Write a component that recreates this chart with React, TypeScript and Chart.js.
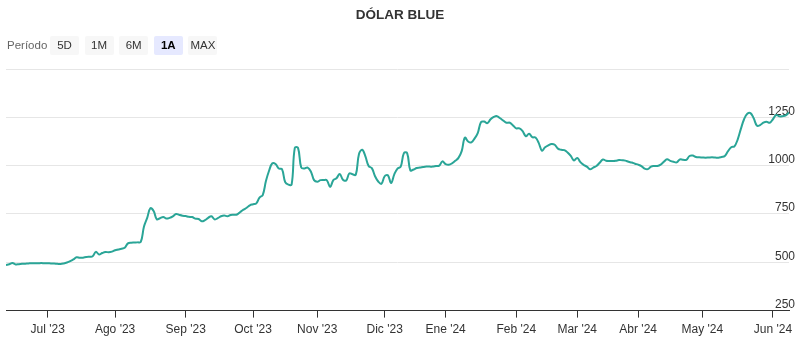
import React, { useEffect, useRef } from "react";
import { Chart, registerables } from "chart.js";

Chart.register(...registerables);

const chartTitle = "DÓLAR BLUE";
const periodLabel = "Período";
const periodButtons = ["5D", "1M", "6M", "1A", "MAX"];
const selectedPeriod = "1A";

// Month labels (x-axis ticks) — first month is partial and not labelled
const monthLabels = [
  "Jun '23", "Jul '23", "Ago '23", "Sep '23", "Oct '23", "Nov '23", "Dic '23",
  "Ene '24", "Feb '24", "Mar '24", "Abr '24", "May '24", "Jun '24",
];

// Daily (business-day) rates, grouped by month
const jun23 = [486, 490, 496, 489, 490, 492, 493, 494, 495, 495, 495, 496, 495];
const jul23 = [495, 494, 494, 492, 491, 494, 499, 506, 515, 526, 523, 524, 527, 529, 531, 554, 540, 548, 553, 552, 555];
const ago23 = [562, 566, 570, 575, 598, 601, 602, 603, 605, 685, 730, 780, 765, 722, 728, 734, 726, 730, 738, 750, 745, 741];
const sep23 = [739, 735, 734, 726, 724, 712, 718, 730, 738, 722, 728, 738, 742, 738, 745, 746, 747, 760, 772, 782, 795];
const oct23 = [800, 805, 835, 848, 920, 975, 1012, 1008, 985, 982, 915, 902, 902, 1092, 1092, 990, 985, 990, 970, 925];
const nov23 = [917, 925, 926, 924, 890, 925, 935, 957, 927, 923, 960, 955, 953, 1060, 1082, 1048, 998, 987, 945, 918, 906];
const dic23 = [945, 950, 910, 955, 985, 995, 1065, 1065, 975, 980, 988, 990, 993, 995, 995, 995, 998, 1000, 1022];
const ene24 = [1008, 1005, 1012, 1025, 1040, 1075, 1145, 1125, 1120, 1140, 1168, 1225, 1228, 1220, 1240, 1252, 1256, 1245, 1233, 1222, 1222, 1208];
const feb24 = [1193, 1193, 1178, 1152, 1165, 1147, 1146, 1118, 1078, 1095, 1105, 1112, 1108, 1088, 1082, 1080, 1068, 1050, 1027];
const mar24 = [1040, 1018, 1004, 995, 981, 990, 998, 1015, 1032, 1025, 1024, 1024, 1025, 1029, 1028, 1026, 1020, 1016, 1010];
const abr24 = [1005, 998, 985, 982, 995, 998, 998, 1005, 1020, 1033, 1025, 1020, 1017, 1032, 1030, 1030, 1050, 1052, 1045, 1043];
const may24 = [1042, 1041, 1042, 1043, 1042, 1041, 1045, 1050, 1075, 1095, 1100, 1135, 1190, 1240, 1268, 1272, 1245, 1207, 1210, 1222, 1227, 1222];
const jun24 = [1240, 1262, 1255, 1256, 1260, 1275];

const monthlyRates = [jun23, jul23, ago23, sep23, oct23, nov23, dic23, ene24, feb24, mar24, abr24, may24, jun24];

const yTickValues = [250, 500, 750, 1000, 1250, 1500];

const FONT = "'Liberation Sans', Arial, Helvetica, sans-serif";

export default function App() {
  const canvasRef = useRef<HTMLCanvasElement | null>(null);

  useEffect(() => {
    if (!canvasRef.current) return;
    const rates: number[] = [];
    const monthStarts: number[] = [];
    monthlyRates.forEach((m) => {
      monthStarts.push(rates.length);
      rates.push(...m);
    });
    const tickIdx = monthStarts.slice(1);
    const tickLabelMap = new Map<number, string>();
    tickIdx.forEach((v, i) => tickLabelMap.set(v, monthLabels[i + 1]));

    const chart = new Chart(canvasRef.current, {
      type: "line",
      data: {
        datasets: [
          {
            data: rates.map((v, i) => ({ x: i, y: v })),
            borderColor: "#2aa597",
            borderWidth: 2,
            pointRadius: 0,
            tension: 0.4,
            fill: false,
          },
        ],
      },
      options: {
        animation: false,
        responsive: false,
        maintainAspectRatio: false,
        layout: { padding: { left: 6, right: 5, top: 69, bottom: 0 } },
        plugins: { legend: { display: false }, tooltip: { enabled: false }, title: { display: false } },
        scales: {
          x: {
            type: "linear",
            min: 0,
            max: rates.length - 1,
            afterBuildTicks: (scale: any) => {
              scale.ticks = tickIdx.map((v) => ({ value: v }));
            },
            ticks: {
              autoSkip: false,
              maxRotation: 0,
              padding: 5,
              color: "#333333",
              font: { size: 12, family: FONT },
              callback: (v: any) => tickLabelMap.get(Number(v)) ?? "",
            },
            grid: { drawOnChartArea: false, drawTicks: true, tickLength: 7, color: "#333333" },
            border: { display: true, color: "#333333", width: 1 },
          },
          y: {
            position: "right",
            min: 250,
            max: 1500,
            afterBuildTicks: (scale: any) => {
              scale.ticks = yTickValues.map((v) => ({ value: v }));
            },
            afterFit: (scale: any) => {
              scale.width = 6;
            },
            ticks: {
              mirror: true,
              padding: 6,
              labelOffset: -6,
              color: "#333333",
              font: { size: 12, family: FONT },
              callback: (v: any) => (Number(v) === 1500 ? "" : String(v)),
            },
            grid: { color: "#e6e6e6", drawTicks: false, lineWidth: 1 },
            border: { display: false },
          },
        },
      },
    });
    return () => chart.destroy();
  }, []);

  const btnLeft = (i: number) => 50 + i * 34.6;

  return (
    <div style={{ position: "absolute", left: 0, top: 0, width: 800, height: 340, overflow: "hidden", background: "#fff", fontFamily: FONT }}>
      <canvas ref={canvasRef} width={800} height={342} style={{ position: "absolute", left: 0, top: 0, width: 800, height: 342 }} />
      <div
        style={{
          position: "absolute",
          top: 6,
          left: 0,
          width: 800,
          textAlign: "center",
          fontWeight: "bold",
          fontSize: 13.5,
          lineHeight: "17px",
          color: "#333333",
        }}
      >
        {chartTitle}
      </div>
      <div
        style={{
          position: "absolute",
          left: 7,
          top: 36,
          height: 19,
          lineHeight: "19px",
          fontSize: 11.5,
          color: "#666666",
        }}
      >
        {periodLabel}
      </div>
      {periodButtons.map((b, i) => {
        const sel = b === selectedPeriod;
        return (
          <div
            key={b}
            style={{
              position: "absolute",
              left: btnLeft(i),
              top: 36,
              width: 29,
              height: 19,
              lineHeight: "19px",
              textAlign: "center",
              fontSize: 11.5,
              background: sel ? "#e6e9ff" : "#f7f7f7",
              color: sel ? "#000000" : "#333333",
              fontWeight: sel ? "bold" : "normal",
              borderRadius: 2,
            }}
          >
            {b}
          </div>
        );
      })}
    </div>
  );
}
